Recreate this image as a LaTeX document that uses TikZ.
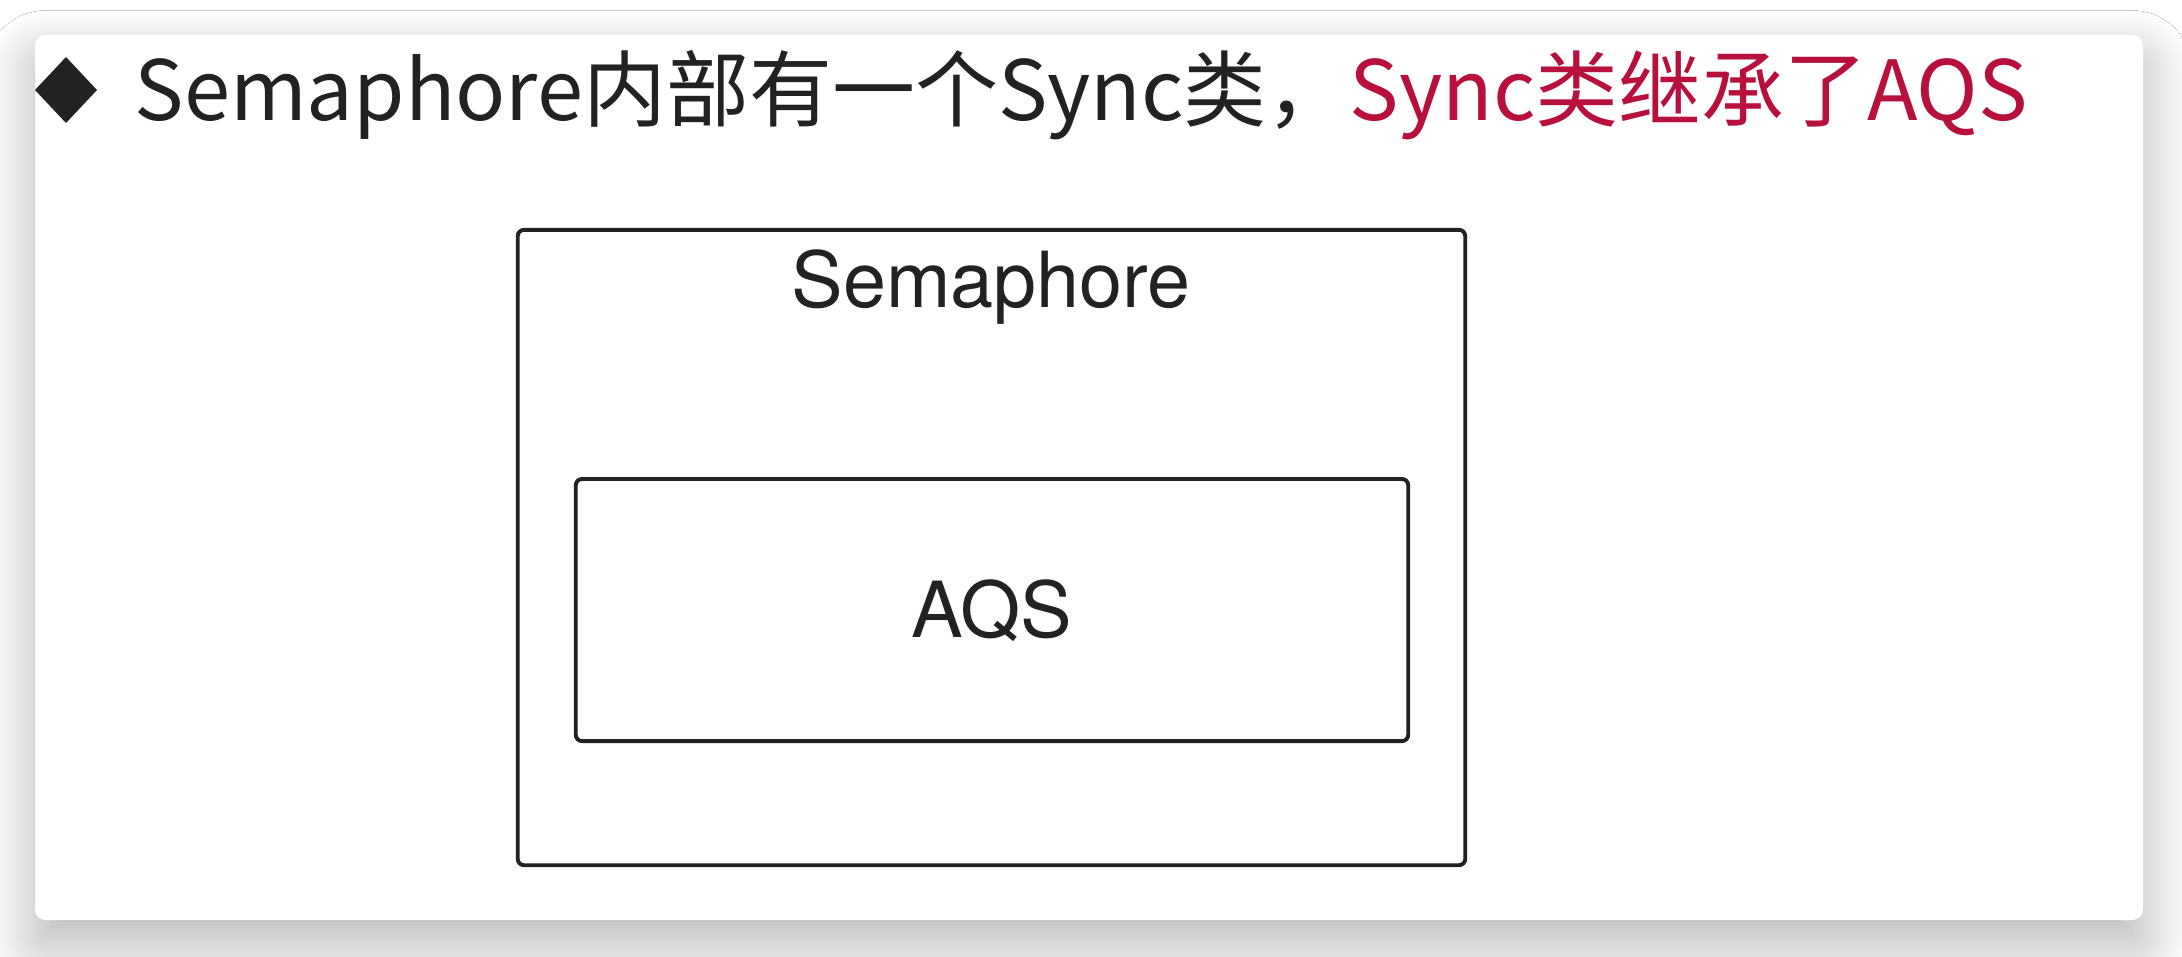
\documentclass[tikz,border=0pt]{standalone}
\usepackage{fontspec}
\newfontfamily\cjk{Noto Sans CJK SC}
\newfontfamily\helv{TeX Gyre Heros}
\usetikzlibrary{shadows.blur}
\definecolor{ink}{HTML}{222222}
\definecolor{redtxt}{HTML}{B8103E}
\tikzset{
  classbox/.style={draw=ink, line width=1.1pt, rounded corners=1.8pt, inner sep=0pt},
  boxlabel/.style={font=\helv\fontsize{22}{26}\selectfont, text=ink, inner sep=0pt}
}
\begin{document}
\begin{tikzpicture}[x=0.01cm, y=-0.01cm]
\useasboundingbox (0,0) rectangle (2182,956);
\fill[white] (0,0) rectangle (2182,956);
% card with shadow
\fill[white, rounded corners=3pt, blur shadow={shadow xshift=0pt, shadow yshift=-7pt, shadow blur radius=14pt, shadow blur steps=30, shadow opacity=30}] (35,35) rectangle (2143,920);
% title
\fill[ink] (35,90) -- (66,57) -- (97,90) -- (66,123) -- cycle;
\node[anchor=base west, inner sep=0pt, text=ink, font=\cjk\fontsize{23.6}{28}\selectfont] (title) at (134,120)
  {Semaphore内部有一个Sync类，\textcolor{redtxt}{Sync类继承了AQS}};
% boxes
\node[classbox, minimum width=9.47cm, minimum height=6.35cm] (semabox) at (991.5,547.5) {};
\node[boxlabel, anchor=base] (semalabel) at (991,307) {Semaphore};
\node[classbox, minimum width=8.32cm, minimum height=2.62cm] (aqsbox) at (992,610) {};
\node[boxlabel, anchor=base] (aqslabel) at (992,637) {AQS};
\end{tikzpicture}
\end{document}
